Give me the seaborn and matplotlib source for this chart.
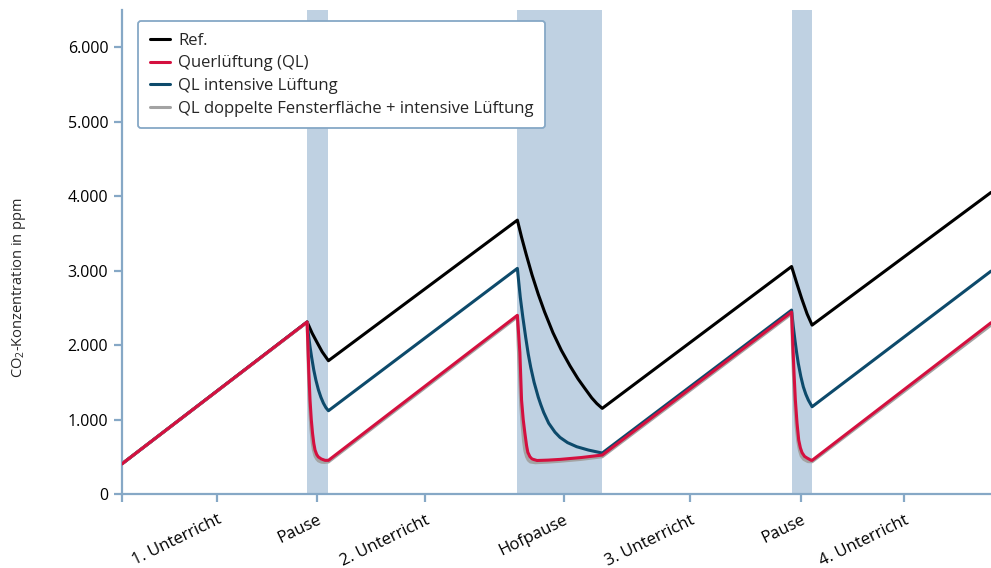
import matplotlib
matplotlib.use("Agg")
import matplotlib.pyplot as plt
import matplotlib.transforms as mtrans
import seaborn as sns
import pandas as pd

# ---- data (time in minutes, CO2 in ppm) ----
ref_t = [0, 44.4, 45.6, 46.7, 48.0, 49.5,
         94.7, 95.7, 96.8, 98.2, 99.7, 101.2, 103.2, 105.2, 107.3, 109.2,
         110.7, 112.5, 113.7, 115.0,
         160.3, 161.5, 162.7, 164.0, 165.2, 208.0]
ref_v = [400, 2310, 2160, 2044, 1910, 1790,
         3678, 3449, 3220, 2944, 2682, 2447, 2168, 1932, 1720, 1547,
         1429, 1290, 1215, 1150,
         3055, 2837, 2627, 2420, 2268, 4050]

ql_t = [0, 44.4, 44.6, 44.8, 45.1, 45.4, 45.7, 46.0, 46.3, 46.7, 47.1, 47.8,
        48.7, 49.5,
        94.7, 95.0, 95.3, 95.7, 96.1, 96.5, 96.9, 97.2, 97.7, 98.2, 99.4,
        102.0, 105.0, 110.0, 115.0,
        160.3, 160.6, 160.9, 161.2, 161.6, 162.0, 162.4, 162.8, 163.4, 164.0,
        165.0, 165.2, 208.0]
ql_v = [400, 2310, 2000, 1650, 1262, 1000, 815, 680, 590, 530, 497, 470,
        452, 452,
        2400, 2150, 1900, 1262, 1000, 815, 650, 560, 500, 470, 450,
        455, 465, 490, 523,
        2443, 2000, 1600, 1262, 950, 725, 620, 555, 505, 483,
        452, 452, 2300]

qli_t = [0, 44.4, 44.7, 45.1, 45.5, 46.0, 46.5, 47.1, 47.7, 48.3, 48.9, 49.5,
         94.7, 95.0, 95.4, 96.0, 96.7, 97.3, 97.9, 98.7, 99.7, 100.3, 101.0,
         102.2, 103.7, 104.9, 106.7, 108.9, 111.7, 115.0,
         160.3, 160.7, 161.1, 161.5, 161.9, 162.5, 163.1, 163.7, 164.3,
         165.2, 208.0]
qli_v = [400, 2310, 2150, 1977, 1830, 1664, 1530, 1400, 1300, 1220, 1160, 1118,
         3030, 2862, 2640, 2377, 2100, 1880, 1700, 1500, 1300, 1200, 1095,
         950, 830, 760, 690, 635, 590, 550,
         2470, 2250, 2067, 1900, 1754, 1580, 1440, 1340, 1262,
         1172, 2993]

qld_t = [0, 44.4, 44.6, 44.8, 45.0, 45.3, 45.6, 45.9, 46.3, 46.7, 47.1, 47.8,
         48.5, 49.5,
         94.7, 94.9, 95.2, 95.5, 95.8, 96.2, 96.5, 96.9, 97.3, 97.8, 99.0,
         102.0, 105.0, 110.0, 115.0,
         160.3, 160.5, 160.8, 161.1, 161.4, 161.8, 162.2, 162.6, 163.2, 164.2,
         165.2, 208.0]
qld_v = [400, 2305, 1900, 1450, 1150, 880, 700, 590, 510, 470, 445, 428,
         424, 430,
         2378, 2000, 1600, 1200, 950, 700, 580, 500, 455, 430, 420,
         428, 440, 465, 500,
         2420, 2000, 1500, 1150, 900, 700, 580, 510, 465, 435,
         433, 2268]

bands = [(44.4, 49.5), (94.7, 115.0), (160.3, 165.2)]
tick_pos = [0, 22.8, 46.8, 72.6, 105.8, 136.0, 162.5, 187.3]
tick_lab = ["", "1. Unterricht", "Pause", "2. Unterricht", "Hofpause",
            "3. Unterricht", "Pause", "4. Unterricht"]
y_ticks = [0, 1000, 2000, 3000, 4000, 5000, 6000]
y_labs = ["0", "1.000", "2.000", "3.000", "4.000", "5.000", "6.000"]

series = [
    ("Ref.", ref_t, ref_v, "#000000", 2),
    ("Querlüftung (QL)", ql_t, ql_v, "#d4103f", 4),
    ("QL intensive Lüftung", qli_t, qli_v, "#0d4a6b", 2.5),
    ("QL doppelte Fensterfläche + intensive Lüftung", qld_t, qld_v, "#a3a3a3", 3),
]

sns.set_theme(style="white")
plt.rcParams["font.family"] = ["Open Sans", "DejaVu Sans"]
plt.rcParams["mathtext.fontset"] = "custom"
plt.rcParams["mathtext.rm"] = "Open Sans"

axcol = "#86a8c6"
fig = plt.figure(figsize=(9.91, 5.68), dpi=100)
ax = fig.add_axes([121.5 / 991, 1 - 494 / 568, 869.5 / 991, 484 / 568])

for a, b in bands:
    ax.axvspan(a, b, color="#bfd1e2", lw=0, zorder=0)

for lab, t, v, c, z in series:
    df = pd.DataFrame({"t": t, "v": v})
    sns.lineplot(data=df, x="t", y="v", ax=ax, color=c, lw=2.2, label=lab,
                 zorder=z, sort=False)

ax.set_xlim(0, 208)
ax.set_ylim(0, 6500)
ax.set_xticks(tick_pos)
ax.set_xticklabels(tick_lab, rotation=26, ha="right", va="top",
                   rotation_mode="anchor", fontsize=12)
off = mtrans.ScaledTranslation(4 / 72, -2 / 72, fig.dpi_scale_trans)
for lbl in ax.get_xticklabels():
    lbl.set_transform(lbl.get_transform() + off)
ax.set_yticks(y_ticks)
ax.set_yticklabels(y_labs, fontsize=11.5)
ax.set_xlabel("")
ax.set_ylabel(r"CO$_\mathregular{2}$-Konzentration in ppm", fontsize=10.5)
ax.yaxis.set_label_coords(-0.108, 0.426)

for s in ["top", "right"]:
    ax.spines[s].set_visible(False)
for s in ["left", "bottom"]:
    ax.spines[s].set_color(axcol)
    ax.spines[s].set_linewidth(1.6)
ax.tick_params(axis="both", colors=axcol, labelcolor="black", length=6,
               width=1.6, direction="out", bottom=True, left=True)
ax.tick_params(axis="x", pad=7)

leg = ax.legend(loc="upper left", bbox_to_anchor=(0.019, 0.977), borderaxespad=0,
                fontsize=12, frameon=True, fancybox=True, handlelength=1.2,
                handletextpad=0.5, labelspacing=0.4, borderpad=0.7)
fr = leg.get_frame()
fr.set_edgecolor(axcol)
fr.set_linewidth(1.3)
fr.set_facecolor("white")
fr.set_alpha(1)
for ln in leg.get_lines():
    ln.set_linewidth(2.2)

fig.savefig("out.png", dpi=100)
